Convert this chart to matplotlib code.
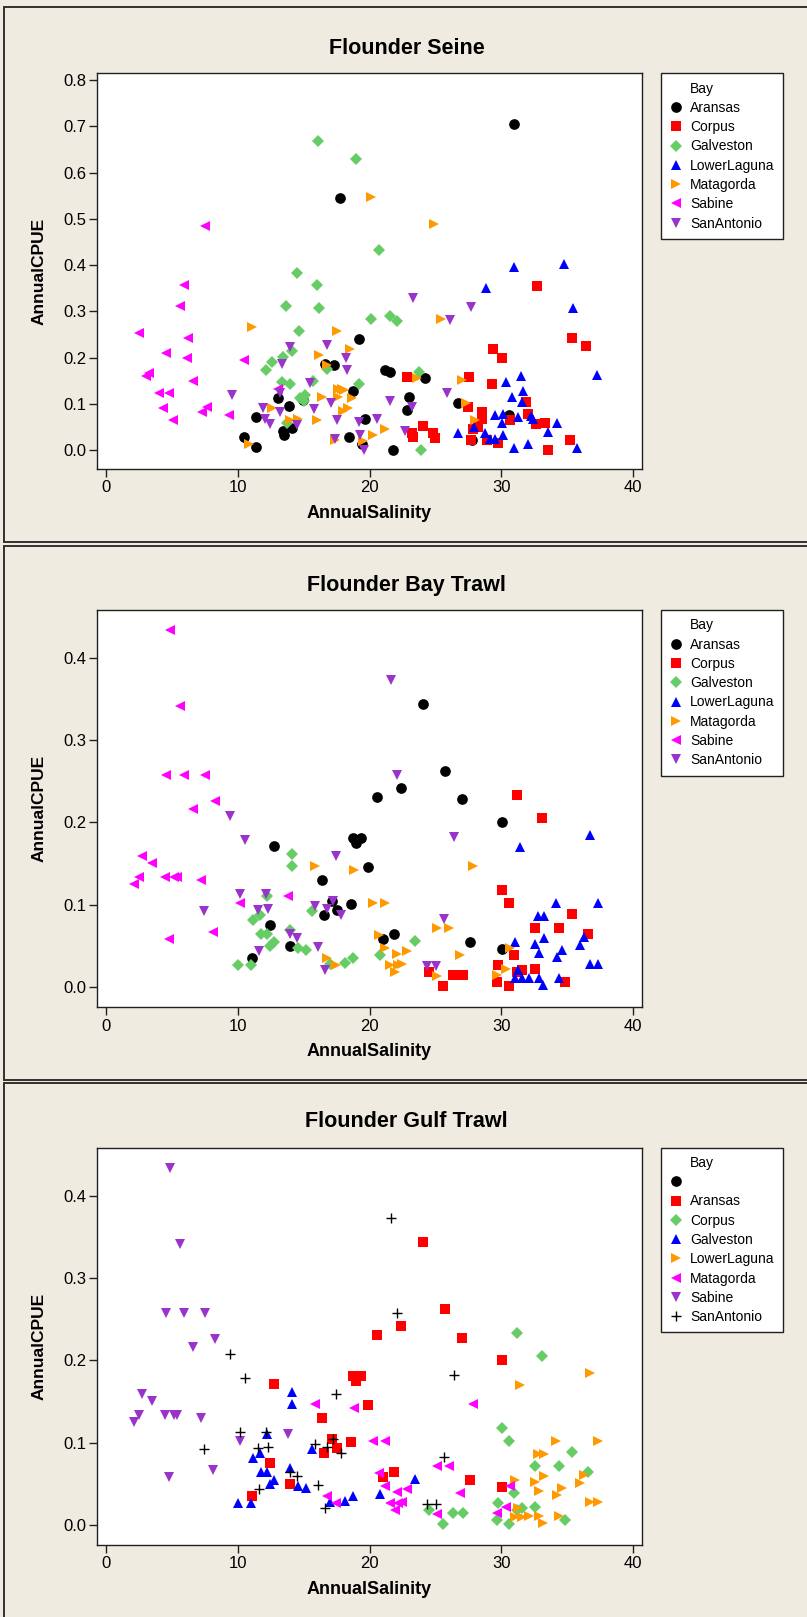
import matplotlib.pyplot as plt
from matplotlib.lines import Line2D
from matplotlib.patches import Rectangle

plt.rcParams['font.family'] = ['Liberation Sans', 'DejaVu Sans']

W, H = 807, 1617
BG = '#efebe1'

bays = ['Aransas', 'Corpus', 'Galveston', 'LowerLaguna', 'Matagorda', 'Sabine', 'SanAntonio']

# ---- Flounder Seine ----
seine_x = {
    'Aransas': [17.76, 19.23, 17.34, 16.63, 18.72, 13.09, 13.92, 14.98, 11.37, 13.42, 13.52, 14.1, 10.51, 11.37,
                19.66, 18.47, 19.4, 30.98, 21.17, 21.55, 24.21, 23.02, 22.82, 21.76, 26.73, 27.75, 30.6],
    'Corpus': [32.67, 35.33, 36.41, 29.39, 30.02, 22.82, 27.57, 29.26, 31.87, 27.44, 28.5, 28.5, 32.04, 30.65,
               32.6, 33.3, 24.08, 24.84, 24.97, 23.2, 23.32, 27.87, 28.25, 27.67, 28.88, 29.77, 35.2, 33.51],
    'Galveston': [16.12, 18.95, 20.7, 14.53, 16.0, 13.67, 16.2, 20.1, 14.63, 13.42, 14.12, 12.59, 12.15, 13.34,
                  13.97, 15.69, 19.2, 16.8, 14.73, 15.1, 15.0, 13.72, 21.55, 22.06, 23.78, 23.88],
    'LowerLaguna': [34.77, 30.96, 28.83, 35.4, 37.22, 31.48, 30.32, 31.66, 30.82, 31.53, 29.51, 30.14, 31.28,
                    32.24, 32.42, 34.19, 33.56, 30.02, 26.73, 27.92, 28.76, 29.13, 29.51, 30.14, 30.96, 32.04, 35.76],
    'Matagorda': [20.11, 11.12, 17.56, 18.52, 16.17, 16.75, 17.89, 17.64, 18.07, 18.65, 16.37, 17.64, 12.58, 18.0,
                  18.4, 13.97, 14.6, 16.0, 10.89, 17.39, 19.53, 20.29, 24.92, 25.42, 23.58, 26.99, 27.29, 27.99, 21.17],
    'Sabine': [7.53, 5.96, 5.64, 2.55, 6.27, 4.57, 6.14, 10.49, 3.31, 3.06, 6.59, 4.07, 4.77, 13.09, 4.37, 7.66,
               7.28, 5.13, 9.37],
    'SanAntonio': [13.97, 16.75, 18.2, 13.34, 18.32, 9.55, 15.49, 13.22, 11.95, 13.22, 12.08, 12.46, 14.48, 15.79,
                   17.05, 17.56, 19.23, 19.28, 17.38, 19.58, 20.54, 23.32, 27.67, 26.1, 25.85, 21.55, 23.2, 22.69],
}
seine_y = {
    'Aransas': [0.544, 0.241, 0.184, 0.187, 0.128, 0.112, 0.095, 0.108, 0.072, 0.042, 0.032, 0.047, 0.029, 0.007,
                0.068, 0.029, 0.014, 0.704, 0.174, 0.168, 0.156, 0.114, 0.086, 0.0, 0.101, 0.022, 0.076],
    'Corpus': [0.355, 0.243, 0.225, 0.218, 0.200, 0.157, 0.157, 0.143, 0.103, 0.092, 0.083, 0.068, 0.078, 0.066,
               0.056, 0.058, 0.052, 0.036, 0.027, 0.037, 0.029, 0.045, 0.050, 0.022, 0.022, 0.016, 0.022, 0.0],
    'Galveston': [0.669, 0.630, 0.432, 0.382, 0.357, 0.312, 0.306, 0.283, 0.257, 0.202, 0.214, 0.191, 0.173, 0.148,
                  0.143, 0.149, 0.143, 0.175, 0.112, 0.119, 0.105, 0.058, 0.290, 0.279, 0.168, 0.001],
    'LowerLaguna': [0.402, 0.396, 0.350, 0.308, 0.162, 0.160, 0.148, 0.128, 0.114, 0.103, 0.076, 0.078, 0.072,
                    0.074, 0.068, 0.058, 0.040, 0.058, 0.036, 0.050, 0.036, 0.023, 0.023, 0.032, 0.004, 0.014, 0.004],
    'Matagorda': [0.548, 0.267, 0.257, 0.219, 0.205, 0.184, 0.131, 0.133, 0.130, 0.112, 0.115, 0.115, 0.090, 0.085,
                  0.090, 0.066, 0.068, 0.066, 0.014, 0.022, 0.020, 0.032, 0.488, 0.283, 0.155, 0.151, 0.101, 0.066, 0.045],
    'Sabine': [0.485, 0.357, 0.312, 0.254, 0.243, 0.209, 0.200, 0.195, 0.166, 0.161, 0.149, 0.124, 0.124, 0.133,
               0.090, 0.092, 0.083, 0.066, 0.076],
    'SanAntonio': [0.223, 0.227, 0.200, 0.187, 0.174, 0.120, 0.144, 0.123, 0.090, 0.083, 0.068, 0.056, 0.054, 0.088,
                   0.101, 0.066, 0.061, 0.032, 0.023, -0.001, 0.068, 0.328, 0.310, 0.281, 0.124, 0.107, 0.094, 0.042],
}

# ---- Flounder Bay Trawl ----
bay_x = {
    'Aransas': [20.54, 18.72, 19.33, 18.95, 12.76, 19.9, 16.37, 17.13, 18.57, 16.58, 17.56, 12.46, 13.97, 11.06,
                24.08, 25.72, 22.39, 26.99, 30.02, 21.86, 21.05, 27.62, 30.02],
    'Corpus': [31.16, 33.1, 30.02, 30.58, 35.33, 32.55, 34.37, 36.59, 30.98, 29.77, 32.55, 24.54, 26.31, 27.06,
               25.55, 29.64, 30.6, 31.16, 31.53, 34.82],
    'Galveston': [14.1, 14.1, 12.2, 15.67, 11.19, 11.7, 11.77, 12.2, 12.46, 12.78, 13.97, 14.6, 15.19, 10.06,
                  11.02, 18.14, 18.77, 17.0, 20.8, 23.45],
    'LowerLaguna': [36.72, 31.41, 34.14, 37.35, 32.8, 33.23, 31.03, 32.55, 33.23, 32.88, 34.56, 34.19, 36.29,
                    35.96, 36.72, 37.35, 31.29, 31.03, 31.53, 32.12, 32.88, 33.18, 34.37],
    'Matagorda': [15.87, 18.85, 20.29, 20.75, 16.8, 17.46, 27.87, 21.17, 25.1, 26.05, 21.17, 26.86, 22.06,
                  22.82, 21.55, 22.18, 22.44, 21.93, 25.1, 30.65, 30.35, 29.63],
    'Sabine': [4.88, 5.63, 4.57, 5.96, 7.53, 8.29, 6.59, 2.78, 3.48, 2.55, 2.14, 4.5, 5.18, 5.43, 7.23, 10.18,
               13.8, 8.16, 4.77],
    'SanAntonio': [9.42, 10.56, 17.46, 10.18, 12.15, 15.87, 17.26, 16.75, 17.81, 11.52, 12.28, 7.48, 13.97,
                   14.53, 16.12, 11.65, 16.63, 21.63, 22.06, 26.41, 25.65, 24.38, 25.04],
}
bay_y = {
    'Aransas': [0.231, 0.181, 0.181, 0.175, 0.171, 0.146, 0.130, 0.104, 0.101, 0.087, 0.093, 0.075, 0.050, 0.035,
                0.344, 0.263, 0.242, 0.228, 0.200, 0.064, 0.058, 0.055, 0.046],
    'Corpus': [0.234, 0.205, 0.118, 0.102, 0.088, 0.071, 0.072, 0.064, 0.039, 0.026, 0.021, 0.018, 0.014, 0.014,
               0.001, 0.006, 0.001, 0.018, 0.020, 0.006],
    'Galveston': [0.162, 0.147, 0.110, 0.092, 0.081, 0.087, 0.064, 0.064, 0.049, 0.055, 0.069, 0.047, 0.045,
                  0.026, 0.026, 0.029, 0.035, 0.028, 0.038, 0.056],
    'LowerLaguna': [0.185, 0.170, 0.102, 0.102, 0.086, 0.086, 0.054, 0.052, 0.059, 0.041, 0.045, 0.036, 0.061,
                    0.051, 0.028, 0.028, 0.020, 0.010, 0.010, 0.011, 0.011, 0.002, 0.011],
    'Matagorda': [0.147, 0.142, 0.102, 0.063, 0.035, 0.026, 0.147, 0.102, 0.072, 0.072, 0.047, 0.039, 0.040,
                  0.043, 0.026, 0.026, 0.028, 0.018, 0.013, 0.047, 0.022, 0.014],
    'Sabine': [0.434, 0.342, 0.258, 0.258, 0.258, 0.226, 0.217, 0.159, 0.151, 0.134, 0.125, 0.134, 0.134, 0.134,
               0.130, 0.102, 0.110, 0.067, 0.058],
    'SanAntonio': [0.208, 0.179, 0.159, 0.113, 0.113, 0.098, 0.104, 0.095, 0.087, 0.093, 0.095, 0.092, 0.064,
                   0.059, 0.048, 0.044, 0.020, 0.374, 0.258, 0.182, 0.083, 0.025, 0.025],
}

# ---- Flounder Gulf Trawl (same values as the bay trawl in the source chart) ----
gulf_x = bay_x
gulf_y = bay_y

# marker, colour, size (pt)
styles = [('o', 'black', 7.7), ('s', '#ff0000', 6.7), ('D', '#66cc66', 6.0), ('^', '#0000ff', 7.5),
          ('>', '#ff9900', 7.5), ('<', '#ff00ff', 7.5), ('v', '#9933cc', 7.5), ('+', 'black', 7.5)]

xticks = [0, 10, 20, 30, 40]

panels = [
    # title, frame top/bottom, axes top/bottom, title y, x, y, ylim, yticks, style shift, legend labels
    ('Flounder Seine', 7.3, 541.7, 73.3, 469.0, 48.3, seine_x, seine_y, (-0.041, 0.8145),
     [0.0, 0.1, 0.2, 0.3, 0.4, 0.5, 0.6, 0.7, 0.8], 0, bays),
    ('Flounder Bay Trawl', 546.0, 1080.0, 610.0, 1007.3, 585.0, bay_x, bay_y, (-0.0251, 0.4588),
     [0.0, 0.1, 0.2, 0.3, 0.4], 0, bays),
    ('Flounder Gulf Trawl', 1083.0, 1660.0, 1147.5, 1545.0, 1121.7, gulf_x, gulf_y, (-0.0247, 0.4594),
     [0.0, 0.1, 0.2, 0.3, 0.4], 1, [''] + bays),
]

fig = plt.figure(figsize=(W / 100, H / 100), dpi=100, facecolor=BG)

ax_l, ax_r = 97.3, 641.7
for title, f_top, f_bot, a_top, a_bot, t_y, xs, ys, ylim, yticks, shift, labels in panels:
    fig.add_artist(Rectangle((4 / W, 1 - f_bot / H), 1.2, (f_bot - f_top) / H, transform=fig.transFigure,
                             facecolor=BG, edgecolor='#303030', lw=1.4, zorder=-1))
    ax = fig.add_axes([ax_l / W, 1 - a_bot / H, (ax_r - ax_l) / W, (a_bot - a_top) / H])
    ax.set_facecolor('white')
    for i, b in enumerate(bays):
        m, c, s = styles[i + shift]
        if m == '+':
            ax.plot(xs[b], ys[b], linestyle='none', marker=m, ms=s, color=c, mew=1.0)
        else:
            ax.plot(xs[b], ys[b], linestyle='none', marker=m, ms=s, color=c, mew=0)
    ax.set_xlim(-0.64, 40.64)
    ax.set_ylim(*ylim)
    ax.set_xticks(xticks)
    ax.set_yticks(yticks)
    ax.set_yticklabels(['%.1f' % v for v in yticks])
    ax.tick_params(direction='out', length=5.5, width=1.0, labelsize=12, color='#202020')
    ax.tick_params(axis='x', pad=2.6)
    ax.tick_params(axis='y', pad=2.1)
    for sp in ax.spines.values():
        sp.set_linewidth(1.0)
        sp.set_color('#202020')
    ax.set_xlabel('AnnualSalinity', fontsize=13, fontweight='bold')
    ax.set_ylabel('AnnualCPUE', fontsize=12.5, fontweight='bold')
    ax.xaxis.set_label_coords(0.5, -44.0 / (a_bot - a_top))
    ax.xaxis.label.set_va('center')
    ax.yaxis.set_label_coords((39.3 - ax_l) / (ax_r - ax_l), 0.5)
    ax.yaxis.label.set_va('center')
    fig.text(406.6 / W, 1 - t_y / H, title, ha='center', va='center', fontsize=15.5, fontweight='bold')

    handles = [Line2D([], [], linestyle='none', marker='None', label='Bay')]
    for j, lab in enumerate(labels):
        m, c, s = styles[j]
        handles.append(Line2D([], [], linestyle='none', marker=m, ms=s, color=c,
                              mew=1.0 if m == '+' else 0, label=lab))
    leg = ax.legend(handles=handles, loc='upper left', bbox_to_anchor=((661 - ax_l) / (ax_r - ax_l), 1.0),
                    borderaxespad=0, fontsize=10, handlelength=1.0, handletextpad=0.5, borderpad=0.6,
                    labelspacing=0.38, frameon=True, fancybox=False, edgecolor='#202020', facecolor='white',
                    framealpha=1)
    leg.get_frame().set_linewidth(1.0)

fig.savefig('out.png', dpi=100, facecolor=BG)
